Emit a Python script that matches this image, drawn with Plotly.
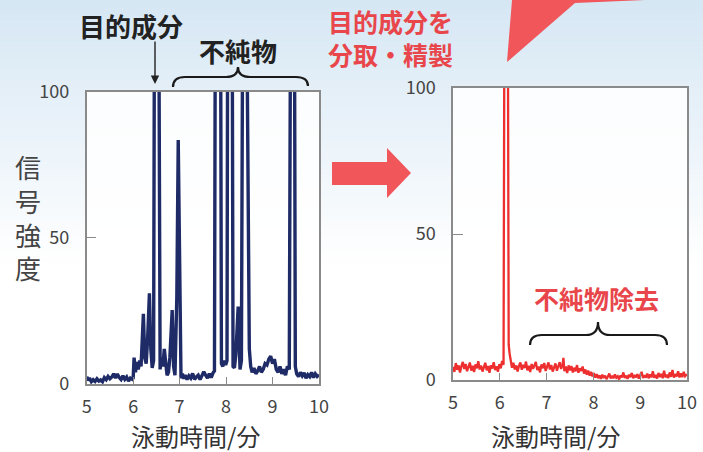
import plotly.graph_objects as go

W, H = 703, 452

# ---- data ----
left_time = [5.00, 5.03, 5.06, 5.10, 5.14, 5.18, 5.22, 5.26, 5.30, 5.34, 5.38, 5.42, 5.46, 5.50,
             5.54, 5.58, 5.62, 5.66, 5.70, 5.74, 5.78, 5.82, 5.86, 5.90, 5.94, 5.98,
             6.00, 6.02, 6.05, 6.08, 6.11, 6.14, 6.17, 6.20, 6.22, 6.25, 6.28, 6.31, 6.35, 6.38,
             6.41, 6.44, 6.46, 6.55, 6.565, 6.58, 6.61, 6.64, 6.67, 6.70, 6.73, 6.76, 6.79, 6.84,
             6.87, 6.90, 6.94, 6.97, 7.00, 7.03, 7.06, 7.09, 7.12, 7.16, 7.20, 7.24, 7.28, 7.32,
             7.36, 7.40, 7.44, 7.48, 7.52, 7.56, 7.60, 7.64, 7.68, 7.72, 7.75, 7.77, 7.88, 7.90,
             7.93, 7.96, 7.99, 8.02, 8.035, 8.13, 8.15, 8.18, 8.21, 8.26, 8.30, 8.33, 8.36, 8.44,
             8.47, 8.50, 8.53, 8.56, 8.60, 8.64, 8.68, 8.72, 8.76, 8.80, 8.84, 8.88, 8.92, 8.96,
             9.00, 9.04, 9.08, 9.12, 9.16, 9.20, 9.24, 9.28, 9.32, 9.36, 9.39, 9.47, 9.49, 9.52,
             9.56, 9.60, 9.64, 9.68, 9.72, 9.76, 9.80, 9.84, 9.88, 9.92, 9.96, 10.00]
left_signal = [2.5, 1.2, 2.0, 0.8, 1.5, 0.9, 1.8, 1.0, 1.4, 0.8, 2.2, 1.5, 2.6, 1.8,
               2.4, 3.5, 2.0, 3.4, 2.2, 1.5, 2.8, 1.6, 2.4, 1.0, 2.0, 1.6,
               2.0, 9.0, 4.0, 7.5, 5.0, 8.0, 6.0, 18.0, 24.0, 9.0, 7.0, 15.0, 31.0, 12.0,
               5.5, 8.0, 140, 140, 8.0, 5.0, 9.0, 6.0, 12.0, 7.0, 3.0, 4.0, 9.0, 25.3,
               6.0, 3.0, 30.0, 83.5, 30.0, 2.0, 3.5, 1.8, 3.0, 1.5, 2.8, 2.0, 3.6, 1.6,
               2.4, 3.0, 1.5, 2.8, 4.2, 3.0, 2.0, 3.5, 2.2, 3.8, 4.5, 140, 140, 7.0,
               6.0, 8.0, 6.5, 8.0, 140, 140, 6.0, 5.5, 10.0, 26.5, 5.0, 8.0, 140, 140,
               67.0, 12.0, 6.0, 4.0, 5.5, 3.5, 4.5, 6.0, 4.0, 5.0, 7.0, 6.5, 8.5, 9.5,
               7.0, 8.5, 5.0, 4.0, 6.0, 3.5, 5.0, 3.0, 6.0, 5.0, 140, 140, 6.0, 3.5,
               2.5, 4.0, 2.8, 3.8, 2.0, 3.2, 2.5, 4.0, 2.2, 3.5, 2.6, 3.2]

right_time = [5.00, 5.03, 5.06, 5.09, 5.12, 5.15, 5.18, 5.21, 5.24, 5.27, 5.30, 5.33, 5.36, 5.39,
              5.42, 5.45, 5.48, 5.51, 5.54, 5.57, 5.60, 5.63, 5.66, 5.69, 5.72, 5.75, 5.78, 5.81,
              5.84, 5.87, 5.90, 5.93, 5.96, 5.99, 6.02, 6.05, 6.08, 6.10, 6.17, 6.19, 6.21, 6.23,
              6.26, 6.29, 6.32, 6.35, 6.38, 6.41, 6.44, 6.47, 6.50, 6.53, 6.56, 6.59, 6.62, 6.65,
              6.68, 6.71, 6.74, 6.77, 6.80, 6.83, 6.86, 6.89, 6.92, 6.95, 6.98, 7.01, 7.04, 7.07,
              7.10, 7.13, 7.16, 7.19, 7.22, 7.25, 7.28, 7.31, 7.34, 7.36, 7.38, 7.41, 7.44, 7.47,
              7.50, 7.53, 7.56, 7.59, 7.62, 7.65, 7.68, 7.71, 7.74, 7.77, 7.80, 7.83, 7.86, 7.89,
              7.92, 7.95, 7.98, 8.01, 8.04, 8.07, 8.10, 8.13, 8.16, 8.19, 8.22, 8.25, 8.28, 8.31,
              8.34, 8.37, 8.40, 8.43, 8.46, 8.49, 8.52, 8.55, 8.58, 8.61, 8.64, 8.67, 8.70, 8.73,
              8.76, 8.79, 8.82, 8.85, 8.88, 8.91, 8.94, 8.97, 9.00, 9.03, 9.06, 9.09, 9.12, 9.15,
              9.18, 9.21, 9.24, 9.27, 9.30, 9.33, 9.36, 9.39, 9.42, 9.45, 9.48, 9.51, 9.54, 9.57,
              9.60, 9.63, 9.66, 9.69, 9.72, 9.75, 9.78, 9.81, 9.84, 9.87, 9.90, 9.93, 9.96, 10.00]
right_signal = [4.5, 2.8, 5.8, 3.5, 5.0, 2.6, 4.8, 6.2, 3.8, 5.5, 3.0, 4.6, 6.0, 3.2,
                4.9, 2.7, 5.3, 4.0, 6.4, 3.6, 5.0, 2.9, 4.4, 5.9, 3.3, 4.8, 2.5, 5.1,
                3.9, 6.1, 3.4, 4.7, 2.8, 5.4, 4.0, 6.5, 5.2, 140, 140, 12.0, 9.0, 6.8,
                4.2, 5.9, 3.6, 5.0, 2.9, 4.8, 6.0, 3.5, 5.2, 4.1, 6.3, 3.3, 4.9, 2.7,
                5.5, 3.8, 5.0, 6.2, 3.4, 4.6, 2.6, 5.3, 4.0, 5.8, 3.1, 4.7, 6.0, 3.6,
                5.1, 2.9, 4.4, 5.7, 3.2, 4.9, 6.1, 3.8, 5.2, 7.6, 3.0, 4.6, 2.4, 5.0,
                3.3, 4.8, 2.6, 4.2, 3.0, 5.1, 2.5, 4.0, 3.1, 4.6, 2.2, 3.6, 1.8, 3.2,
                1.5, 2.8, 1.2, 2.4, 0.8, 2.0, 0.6, 1.6, 0.4, 1.8, 0.7, 1.5, 0.3, 1.2,
                2.2, 0.5, 1.4, 0.6, 1.9, 0.8, 1.3, 0.2, 1.6, 0.9, 2.6, 0.7, 1.5, 0.4,
                1.8, 1.0, 2.4, 0.6, 1.7, 0.9, 2.0, 0.5, 1.4, 2.8, 0.7, 1.6, 0.8, 2.2,
                0.6, 1.9, 0.9, 3.0, 0.8, 1.7, 0.5, 2.4, 1.0, 2.1, 0.6, 3.2, 0.9, 1.8,
                0.7, 2.6, 1.1, 3.4, 0.8, 2.0, 1.2, 3.0, 0.9, 2.3, 1.0, 2.8, 1.3, 2.0]

x_ticks = [5, 6, 7, 8, 9, 10]
x_tick_labels = ["5", "6", "7", "8", "9", "10"]
y_ticks = [0, 50, 100]
y_tick_labels = ["0", "50", "100"]
x_title = "泳動時間/分"
y_title_chars = ["信", "号", "強", "度"]

FONT = "Noto Sans CJK JP"
NAVY = "#1e2b67"
RED_LINE = "#ee2f2f"
RED_TXT = "#e8464b"
RED_ARROW = "#f0565a"
AX = "#8a8a8a"


def px(x):
    return x / W


def py(y):
    return 1 - y / H


def path(cmds):
    out = []
    for c in cmds:
        op = c[0]
        pts = c[1:]
        s = op + " " + " ".join(f"{px(pts[i]):.5f},{py(pts[i + 1]):.5f}" for i in range(0, len(pts), 2))
        out.append(s)
    return " ".join(out)


fig = go.Figure()
fig.add_trace(go.Scatter(x=left_time, y=left_signal, mode="lines",
                         line=dict(color=NAVY, width=3.4), xaxis="x", yaxis="y",
                         showlegend=False, hoverinfo="skip"))
fig.add_trace(go.Scatter(x=right_time, y=right_signal, mode="lines",
                         line=dict(color=RED_LINE, width=2.3), xaxis="x2", yaxis="y2",
                         showlegend=False, hoverinfo="skip"))

xcommon = dict(range=[5, 10], tickvals=x_ticks, ticktext=x_tick_labels, ticks="inside", ticklen=7,
               tickcolor=AX, tickwidth=1.3, showline=True, linecolor=AX, linewidth=1.5, mirror=True,
               showgrid=False, zeroline=False, tickfont=dict(family=FONT, size=18, color="#444"),
               ticklabelstandoff=6, fixedrange=True, automargin=False)
ycommon = dict(range=[0, 100], tickvals=y_ticks, ticktext=y_tick_labels, ticks="inside", ticklen=10,
               tickcolor=AX, tickwidth=1.3, showline=True, linecolor=AX, linewidth=1.5, mirror=True,
               showgrid=False, zeroline=False, tickfont=dict(family=FONT, size=18, color="#444"),
               ticklabelstandoff=12, fixedrange=True, automargin=False)

shapes = []
# background gradient
top = (214, 231, 244)
n = 40
stop_y = 270
for i in range(n):
    y0 = stop_y * i / n
    y1 = stop_y * (i + 1) / n + 0.5
    t = i / (n - 1)
    c = tuple(int(round(top[k] + (255 - top[k]) * t)) for k in range(3))
    shapes.append(dict(type="rect", xref="paper", yref="paper", x0=0, x1=1, y0=py(y1), y1=py(y0),
                       fillcolor=f"rgb{c}", line=dict(width=0), layer="below"))
# plot area fills
for xr, yr in (("x domain", "y domain"), ("x2 domain", "y2 domain")):
    shapes.append(dict(type="rect", xref=xr, yref=yr, x0=0, x1=1, y0=0, y1=1,
                       fillcolor="rgba(255,255,255,0.85)", line=dict(width=0), layer="below"))
# middle arrow
shapes.append(dict(type="path", xref="paper", yref="paper",
                   path=path([("M", 332, 162), ("L", 387, 162), ("L", 387, 148), ("L", 411, 173),
                              ("L", 387, 198), ("L", 387, 185), ("L", 332, 185)]) + " Z",
                   fillcolor=RED_ARROW, line=dict(width=0)))
# top arrow
shapes.append(dict(type="path", xref="paper", yref="paper",
                   path=path([("M", 512, 0), ("L", 507, 62), ("L", 575, 3), ("L", 645, 0)]) + " Z",
                   fillcolor=RED_ARROW, line=dict(width=0)))
# braces
shapes.append(dict(type="path", xref="paper", yref="paper",
                   path=path([("M", 173, 87), ("Q", 173, 77, 185, 77), ("L", 226, 77),
                              ("Q", 238, 77, 238, 67), ("Q", 238, 77, 250, 77), ("L", 296, 77),
                              ("Q", 308, 77, 308, 86)]),
                   line=dict(color="#1a1a1a", width=2.2)))
shapes.append(dict(type="path", xref="paper", yref="paper",
                   path=path([("M", 530, 345), ("Q", 530, 335, 542, 335), ("L", 586, 335),
                              ("Q", 598, 335, 598, 322), ("Q", 598, 335, 610, 335), ("L", 655, 335),
                              ("Q", 667, 335, 667, 345)]),
                   line=dict(color="#1a1a1a", width=2.2)))

ann = []


def text(x, y, s, size, color, bold=False):
    ann.append(dict(x=px(x), y=py(y), xref="paper", yref="paper", text=(f"<b>{s}</b>" if bold else s),
                    showarrow=False, xanchor="center", yanchor="middle",
                    font=dict(family=FONT, size=size, color=color)))


text(131, 25, "目的成分", 26, "#222", True)
text(238, 50, "不純物", 26, "#222", True)
text(390, 21, "目的成分を", 25, RED_TXT, True)
text(390, 54, "分取・精製", 25, RED_TXT, True)
text(596, 298, "不純物除去", 25, RED_TXT, True)
text(195, 435, x_title, 24, "#333")
text(555, 435, x_title, 24, "#333")
text(28, 217.5, "<br>".join(y_title_chars), 26, "#444")
# down arrow to main peak
ann.append(dict(x=px(155), y=py(84), xref="paper", yref="paper", ax=0, ay=-44, axref="pixel", ayref="pixel",
                text="", showarrow=True, arrowhead=2, arrowsize=1.2, arrowwidth=1.4, arrowcolor="#222"))

fig.update_layout(
    width=W, height=H, autosize=False, margin=dict(l=0, r=0, t=0, b=0, autoexpand=False),
    paper_bgcolor="white", plot_bgcolor="white",
    xaxis=dict(domain=[px(86.7), px(319)], anchor="y", **xcommon),
    yaxis=dict(domain=[py(384), py(91.7)], anchor="x", **ycommon),
    xaxis2=dict(domain=[px(453), px(687)], anchor="y2", **xcommon),
    yaxis2=dict(domain=[py(380), py(88)], anchor="x2", **ycommon),
    shapes=shapes, annotations=ann,
    font=dict(family=FONT),
)

post = ("document.documentElement.style.margin='0';document.documentElement.style.overflow='hidden';"
        "document.body.style.margin='0';document.body.style.overflow='hidden';")
fig.write_html("out.html", config=dict(displayModeBar=False), post_script=post)
